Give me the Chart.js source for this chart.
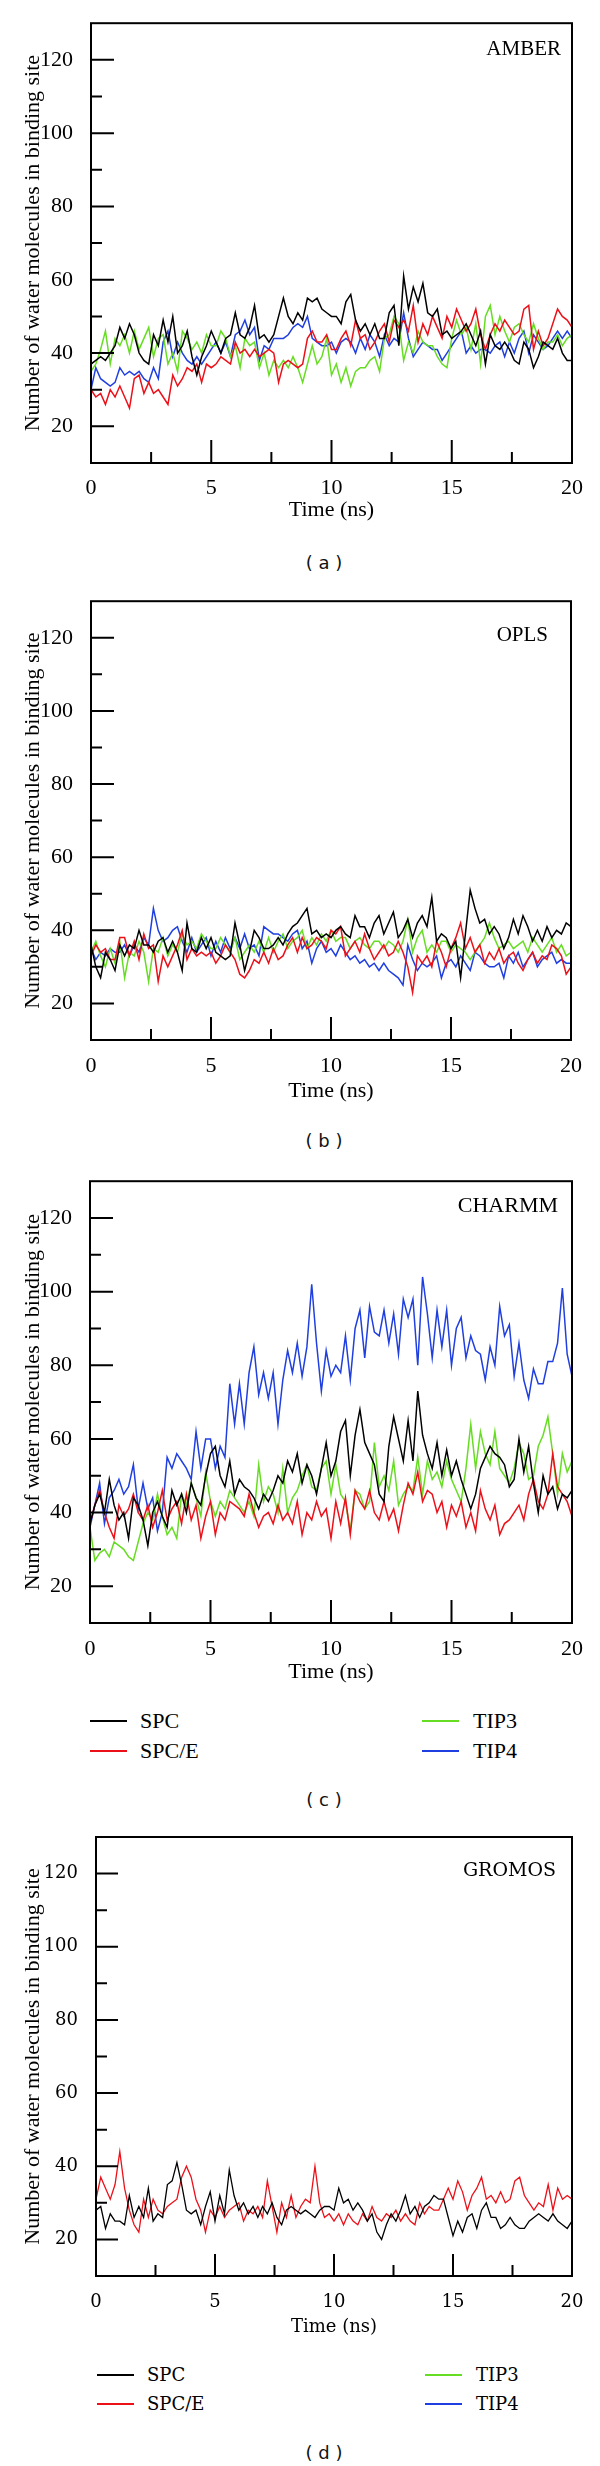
<!DOCTYPE html>
<html>
<head>
<meta charset="utf-8">
<title>Water molecules in binding site</title>
<script src="https://cdn.jsdelivr.net/npm/chart.js@4.4.0/dist/chart.umd.min.js"></script>
<style>
  html, body { margin: 0; padding: 0; background: #fff; }
  body { width: 600px; height: 2466px; position: relative; overflow: hidden; }
  canvas { position: absolute; left: 0; }
  .tag { position: absolute; left: 274px; width: 100px; height: 24px; line-height: 24px;
         text-align: center; font-family: "DejaVu Sans", sans-serif; font-size: 18px; color: #111; white-space: pre; }
  .sw { position: absolute; height: 2px; width: 37px; }
  .lt { position: absolute; height: 28px; line-height: 28px; color: #000; white-space: nowrap; }
  .serif { font-family: "Liberation Serif", "Times New Roman", serif; font-size: 22px; }
  .wide { font-family: "DejaVu Serif", serif; font-size: 18px; }
</style>
</head>
<body>

<canvas id="amber" width="600" height="530" style="top:0px"></canvas>
<div class="tag" style="top:551px">( a )</div>

<canvas id="opls" width="600" height="529" style="top:578px"></canvas>
<div class="tag" style="top:1129px">( b )</div>

<canvas id="charmm" width="600" height="532" style="top:1158px"></canvas>
<div id="legend-c"></div>
<div class="tag" style="top:1788px">( c )</div>

<canvas id="gromos" width="600" height="527" style="top:1816px"></canvas>
<div id="legend-d"></div>
<div class="tag" style="top:2441px">( d )</div>

<script>
// time axis (ns)
const times = [0, 0.2, 0.4, 0.6, 0.8, 1, 1.2, 1.4, 1.6, 1.8, 2,
  2.2, 2.4, 2.6, 2.8, 3, 3.2, 3.4, 3.6, 3.8, 4,
  4.2, 4.4, 4.6, 4.8, 5, 5.2, 5.4, 5.6, 5.8, 6,
  6.2, 6.4, 6.6, 6.8, 7, 7.2, 7.4, 7.6, 7.8, 8,
  8.2, 8.4, 8.6, 8.8, 9, 9.2, 9.4, 9.6, 9.8, 10,
  10.2, 10.4, 10.6, 10.8, 11, 11.2, 11.4, 11.6, 11.8, 12,
  12.2, 12.4, 12.6, 12.8, 13, 13.2, 13.4, 13.6, 13.8, 14,
  14.2, 14.4, 14.6, 14.8, 15, 15.2, 15.4, 15.6, 15.8, 16,
  16.2, 16.4, 16.6, 16.8, 17, 17.2, 17.4, 17.6, 17.8, 18,
  18.2, 18.4, 18.6, 18.8, 19, 19.2, 19.4, 19.6, 19.8, 20];

const yTicks = [20, 40, 60, 80, 100, 120];
const yMinorTicks = [30, 50, 70, 90, 110];
const xTicks = [0, 5, 10, 15, 20];
const xMinorTicks = [2.5, 7.5, 12.5, 17.5];

const seriesNames = ['SPC', 'SPC/E', 'TIP3', 'TIP4'];
const seriesColors = ['#000000', '#ec1019', '#66dd22', '#1f3fe0'];

// AMBER
const amberSPC = [37, 38, 39, 38, 40, 42, 47, 44, 48, 45, 40,
  38, 37, 45, 42, 49, 43, 50, 40, 42, 46,
  39, 34, 39, 42, 46, 43, 40, 44, 45, 51,
  45, 44, 47, 53, 44, 45, 43, 45, 50, 55,
  50, 48, 51, 49, 55, 54, 55, 52, 51, 50,
  50, 48, 54, 56, 49, 46, 48, 45, 48, 44,
  44, 51, 53, 42, 61, 52, 58, 54, 59, 51,
  50, 52, 45, 46, 44, 45, 46, 48, 45, 42,
  46, 37, 45, 42, 41, 43, 41, 38, 37, 43,
  41, 36, 39, 43, 42, 41, 44, 40, 38, 38];
const amberSPCE = [30, 28, 29, 26, 30, 28, 31, 28, 25, 33, 34,
  29, 32, 29, 30, 28, 26, 34, 31, 33, 36,
  35, 37, 32, 37, 36, 37, 39, 38, 37, 43,
  40, 41, 39, 41, 39, 40, 41, 40, 32, 37,
  38, 37, 36, 37, 44, 46, 43, 43, 45, 41,
  41, 44, 46, 42, 49, 44, 45, 41, 43, 46,
  48, 43, 49, 47, 49, 46, 53, 43, 48, 45,
  50, 47, 44, 50, 47, 52, 49, 46, 48, 52,
  45, 41, 45, 48, 46, 49, 47, 45, 46, 52,
  53, 41, 46, 42, 44, 48, 52, 50, 49, 47];
const amberTIP3 = [35, 37, 41, 46, 37, 44, 42, 45, 40, 46, 41,
  44, 47, 39, 44, 45, 37, 40, 35, 46, 44,
  41, 43, 40, 45, 42, 42, 46, 44, 39, 42,
  36, 44, 42, 43, 36, 40, 34, 38, 36, 38,
  36, 39, 36, 32, 37, 42, 37, 39, 44, 34,
  37, 32, 36, 31, 35, 36, 36, 38, 39, 35,
  44, 45, 50, 48, 38, 43, 40, 46, 43, 42,
  42, 39, 37, 36, 44, 49, 45, 47, 41, 48,
  37, 50, 53, 45, 50, 46, 43, 47, 48, 45,
  43, 48, 44, 41, 43, 43, 45, 42, 44, 45];
const amberTIP4 = [30, 36, 33, 32, 31, 32, 36, 34, 35, 34, 35,
  33, 32, 36, 33, 43, 46, 39, 43, 40, 38,
  37, 39, 37, 39, 41, 43, 40, 43, 39, 45,
  46, 49, 45, 47, 38, 42, 41, 44, 44, 44,
  45, 47, 48, 47, 50, 44, 43, 42, 42, 43,
  40, 43, 44, 43, 40, 44, 41, 45, 43, 39,
  45, 42, 44, 43, 51, 44, 39, 41, 43, 42,
  41, 41, 38, 40, 42, 44, 46, 40, 42, 40,
  41, 41, 40, 42, 43, 39, 43, 40, 44, 46,
  40, 45, 43, 41, 42, 44, 46, 44, 46, 44];

// OPLS
const oplsSPC = [36, 30, 27, 34, 32, 29, 36, 33, 36, 35, 40,
  36, 36, 34, 37, 38, 34, 37, 34, 29, 42,
  35, 34, 38, 35, 38, 34, 33, 32, 33, 42,
  36, 29, 34, 40, 38, 35, 35, 36, 38, 36,
  39, 41, 42, 44, 46, 39, 40, 38, 39, 38,
  40, 41, 39, 38, 44, 41, 41, 38, 42, 44,
  39, 42, 45, 38, 40, 43, 38, 42, 44, 41,
  49, 37, 39, 38, 35, 37, 27, 39, 51, 46,
  42, 43, 39, 41, 39, 35, 38, 43, 39, 44,
  41, 37, 40, 37, 41, 38, 40, 39, 42, 41];
const oplsSPCE = [33, 36, 34, 35, 32, 32, 38, 38, 33, 37, 32,
  39, 35, 36, 26, 33, 30, 33, 36, 40, 32,
  35, 33, 34, 33, 34, 31, 33, 36, 34, 32,
  28, 27, 29, 32, 31, 34, 31, 35, 32, 33,
  36, 38, 34, 38, 35, 36, 38, 37, 35, 40,
  39, 41, 33, 35, 37, 34, 39, 35, 32, 34,
  36, 33, 34, 37, 34, 30, 23, 33, 31, 33,
  30, 37, 34, 30, 35, 38, 42, 35, 38, 34,
  36, 31, 34, 32, 35, 31, 33, 34, 31, 29,
  32, 34, 31, 33, 32, 36, 35, 33, 28, 30];
const oplsTIP3 = [34, 37, 33, 30, 35, 31, 37, 27, 34, 33, 37,
  34, 26, 35, 34, 38, 33, 36, 34, 39, 36,
  37, 35, 39, 37, 35, 35, 38, 36, 34, 38,
  32, 34, 36, 34, 37, 34, 38, 34, 37, 39,
  35, 37, 38, 40, 35, 38, 36, 39, 37, 40,
  37, 38, 38, 35, 37, 38, 36, 35, 37, 37,
  35, 37, 36, 34, 37, 43, 34, 38, 40, 34,
  36, 34, 37, 37, 34, 36, 35, 34, 32, 34,
  36, 38, 42, 38, 35, 36, 37, 35, 36, 37,
  34, 38, 36, 34, 36, 38, 34, 36, 33, 34];
const oplsTIP4 = [35, 32, 34, 33, 35, 34, 34, 36, 33, 36, 34,
  38, 36, 46, 40, 37, 38, 40, 41, 37, 34,
  38, 34, 36, 38, 33, 37, 34, 38, 35, 38,
  35, 39, 35, 36, 33, 41, 40, 39, 39, 38,
  37, 39, 40, 35, 37, 31, 35, 37, 34, 35,
  33, 36, 34, 32, 33, 31, 32, 30, 31, 29,
  31, 29, 28, 27, 25, 36, 32, 29, 31, 30,
  31, 33, 27, 31, 32, 30, 33, 31, 29, 34,
  33, 31, 30, 30, 31, 27, 33, 31, 34, 30,
  32, 34, 30, 32, 33, 34, 31, 32, 31, 31];

// CHARMM
const charmmSPC = [37, 42, 45, 40, 49, 42, 38, 40, 33, 44, 42,
  38, 31, 40, 43, 39, 36, 46, 42, 45, 40,
  48, 44, 42, 50, 56, 58, 50, 47, 54, 45,
  49, 47, 46, 44, 41, 45, 43, 46, 50, 48,
  54, 51, 56, 48, 53, 50, 45, 52, 59, 50,
  54, 62, 65, 50, 61, 68, 59, 56, 53, 45,
  43, 58, 66, 60, 54, 65, 54, 73, 61, 56,
  52, 59, 50, 57, 50, 54, 49, 45, 41, 45,
  52, 55, 58, 56, 55, 53, 47, 49, 60, 51,
  58, 48, 40, 50, 45, 47, 41, 45, 44, 46];
const charmmSPCE = [37, 42, 46, 40, 36, 33, 42, 39, 41, 45, 40,
  38, 42, 36, 40, 46, 38, 41, 43, 37, 45,
  38, 42, 33, 39, 43, 34, 40, 38, 43, 42,
  41, 39, 45, 40, 36, 39, 40, 37, 42, 38,
  40, 37, 43, 34, 40, 38, 43, 39, 41, 33,
  43, 37, 44, 34, 46, 43, 41, 46, 40, 38,
  43, 38, 41, 35, 42, 48, 45, 51, 43, 46,
  45, 40, 43, 36, 42, 39, 43, 36, 40, 35,
  46, 41, 38, 42, 34, 37, 38, 40, 42, 38,
  45, 49, 43, 41, 45, 56, 47, 45, 43, 39];
const charmmTIP3 = [36, 27, 29, 30, 28, 32, 31, 30, 28, 27, 32,
  37, 40, 38, 45, 39, 34, 36, 33, 45, 42,
  48, 44, 39, 51, 43, 39, 43, 41, 46, 44,
  42, 40, 43, 39, 53, 43, 47, 45, 40, 52,
  40, 44, 46, 50, 53, 47, 46, 52, 54, 45,
  53, 45, 43, 35, 46, 45, 41, 43, 59, 47,
  50, 46, 54, 42, 45, 47, 46, 55, 45, 54,
  49, 51, 47, 54, 49, 46, 43, 52, 64, 52,
  62, 56, 53, 62, 52, 50, 48, 52, 59, 56,
  49, 50, 58, 61, 66, 56, 45, 56, 51, 54];
const charmmTIP4 = [36, 42, 48, 37, 44, 46, 49, 45, 47, 53, 41,
  48, 41, 44, 35, 40, 55, 52, 56, 54, 52,
  49, 62, 52, 60, 60, 52, 58, 55, 75, 64,
  75, 64, 78, 85, 72, 78, 71, 78, 64, 76,
  84, 78, 86, 77, 85, 102, 86, 73, 84, 77,
  80, 78, 88, 76, 90, 95, 82, 96, 89, 88,
  95, 86, 94, 83, 98, 93, 98, 80, 104, 94,
  82, 95, 85, 95, 80, 90, 93, 82, 88, 84,
  83, 76, 85, 80, 96, 88, 91, 77, 86, 76,
  71, 79, 75, 75, 81, 81, 86, 101, 83, 77];

// GROMOS (only SPC and SPC/E were plotted)
const gromosSPC = [28, 29, 23, 27, 25, 25, 24, 32, 26, 29, 26,
  34, 25, 27, 26, 35, 36, 41, 35, 28, 27,
  28, 24, 29, 33, 25, 32, 27, 39, 32, 28,
  30, 27, 29, 26, 29, 27, 30, 26, 24, 28,
  29, 28, 27, 28, 27, 26, 28, 29, 29, 28,
  34, 30, 31, 28, 30, 28, 25, 27, 22, 20,
  24, 27, 25, 28, 32, 27, 29, 26, 29, 30,
  32, 31, 31, 26, 21, 25, 22, 26, 27, 23,
  28, 30, 26, 26, 23, 24, 26, 24, 23, 23,
  25, 26, 27, 26, 25, 27, 25, 24, 23, 25];
const gromosSPCE = [31, 37, 34, 31, 35, 44, 34, 28, 24, 22, 31,
  26, 31, 28, 27, 29, 30, 31, 37, 40, 37,
  31, 28, 22, 28, 26, 29, 26, 28, 29, 30,
  25, 28, 27, 29, 26, 36, 29, 22, 30, 26,
  32, 26, 29, 31, 30, 40, 30, 26, 27, 25,
  27, 24, 27, 25, 24, 27, 25, 29, 26, 25,
  27, 26, 28, 25, 27, 25, 24, 30, 27, 29,
  28, 28, 31, 34, 31, 36, 33, 28, 32, 34,
  37, 31, 32, 30, 33, 30, 31, 36, 37, 32,
  30, 28, 30, 29, 35, 28, 34, 31, 32, 31];

const SERIF = '"Liberation Serif", "Times New Roman", serif';
const WIDE = '"DejaVu Serif", serif';

/**
 * Frame, inward ticks and force-field name
 */
const framePlugin = {
    id: 'frame',
    afterDraw(chart, args, opts) {
        const { ctx, chartArea: a, scales: { x, y } } = chart;
        ctx.save();
        ctx.strokeStyle = '#000';
        ctx.lineWidth = 2;
        ctx.strokeRect(a.left, a.top, a.right - a.left, a.bottom - a.top);

        ctx.beginPath();
        yTicks.forEach(v => {
            const p = y.getPixelForValue(v);
            ctx.moveTo(a.left, p);
            ctx.lineTo(a.left + opts.major, p);
        });
        yMinorTicks.forEach(v => {
            const p = y.getPixelForValue(v);
            ctx.moveTo(a.left, p);
            ctx.lineTo(a.left + opts.minor, p);
        });
        xTicks.forEach(v => {
            const p = x.getPixelForValue(v);
            ctx.moveTo(p, a.bottom);
            ctx.lineTo(p, a.bottom - opts.major);
        });
        xMinorTicks.forEach(v => {
            const p = x.getPixelForValue(v);
            ctx.moveTo(p, a.bottom);
            ctx.lineTo(p, a.bottom - opts.minor);
        });
        ctx.stroke();

        ctx.fillStyle = '#000';
        ctx.font = opts.nameFont;
        ctx.textAlign = 'right';
        ctx.textBaseline = 'middle';
        ctx.fillText(opts.name, a.right - opts.nameDx, a.top + opts.nameDy);
        ctx.restore();
    }
};

function makePanel(id, cfg) {
    const datasets = cfg.series.map((values, i) => ({
        label: seriesNames[i],
        data: values.map((v, k) => ({ x: times[k], y: v })),
        borderColor: seriesColors[i],
        borderWidth: cfg.lineWidth,
        pointRadius: 0,
        tension: 0,
        fill: false
    }));

    const tickFont = { family: cfg.tickFamily, size: cfg.tickSize };

    return new Chart(document.getElementById(id), {
        type: 'line',
        data: { datasets: datasets },
        plugins: [framePlugin],
        options: {
            responsive: false,
            animation: false,
            devicePixelRatio: 1,
            layout: { padding: { top: 21, right: cfg.padRight, bottom: 0, left: 0 } },
            plugins: {
                legend: { display: false },
                tooltip: { enabled: false },
                frame: {
                    name: cfg.name,
                    nameFont: cfg.nameFont,
                    nameDx: cfg.nameDx,
                    nameDy: cfg.nameDy,
                    major: cfg.major,
                    minor: cfg.minor
                }
            },
            scales: {
                x: {
                    type: 'linear',
                    min: 0,
                    max: 20,
                    afterBuildTicks: s => { s.ticks = xTicks.map(v => ({ value: v })); },
                    afterFit: s => { s.height = 67; },
                    grid: { display: false },
                    border: { display: false },
                    ticks: { color: '#000', font: tickFont, padding: cfg.xPad, maxRotation: 0, autoSkip: false },
                    title: {
                        display: true,
                        text: 'Time (ns)',
                        color: '#000',
                        font: tickFont,
                        padding: { top: 0, bottom: cfg.titlePad }
                    }
                },
                y: {
                    type: 'linear',
                    min: 10,
                    max: 130,
                    afterBuildTicks: s => { s.ticks = yTicks.map(v => ({ value: v })); },
                    afterFit: s => { s.width = cfg.left; },
                    grid: { display: false },
                    border: { display: false },
                    ticks: { color: '#000', font: tickFont, padding: 10, autoSkip: false },
                    title: {
                        display: true,
                        text: 'Number of water molecules in binding site',
                        color: '#000',
                        font: { family: SERIF, size: 22 },
                        padding: { top: 20, bottom: 0 }
                    }
                }
            }
        }
    });
}

/**
 * HTML legend, two columns
 */
function buildLegend(id, cfg) {
    const box = document.getElementById(id);
    const cols = [
        { swatch: cfg.leftSwatch, text: cfg.leftText, items: [0, 1] },
        { swatch: cfg.rightSwatch, text: cfg.rightText, items: [2, 3] }
    ];
    let html = '';
    cols.forEach(col => {
        col.items.forEach((idx, row) => {
            const y = cfg.rows[row];
            html += `<div class="sw" style="left:${col.swatch}px;top:${y - 1}px;background:${seriesColors[idx]}"></div>`;
            html += `<div class="lt ${cfg.cls}" style="left:${col.text}px;top:${y - 14}px">${seriesNames[idx]}</div>`;
        });
    });
    box.innerHTML = html;
}

document.addEventListener('DOMContentLoaded', function() {
    makePanel('amber', {
        series: [amberSPC, amberSPCE, amberTIP3, amberTIP4],
        name: 'AMBER', nameFont: '21px ' + SERIF, nameDx: 11, nameDy: 26,
        left: 91, padRight: 28, lineWidth: 1.5, major: 23, minor: 11,
        tickFamily: SERIF, tickSize: 22, xPad: 4, titlePad: 7
    });
    makePanel('opls', {
        series: [oplsSPC, oplsSPCE, oplsTIP3, oplsTIP4],
        name: 'OPLS', nameFont: '21px ' + SERIF, nameDx: 23, nameDy: 34,
        left: 91, padRight: 29, lineWidth: 1.5, major: 23, minor: 11,
        tickFamily: SERIF, tickSize: 22, xPad: 5, titlePad: 3
    });
    makePanel('charmm', {
        series: [charmmSPC, charmmSPCE, charmmTIP3, charmmTIP4],
        name: 'CHARMM', nameFont: '22px ' + SERIF, nameDx: 14, nameDy: 25,
        left: 90, padRight: 28, lineWidth: 1.5, major: 23, minor: 11,
        tickFamily: SERIF, tickSize: 22, xPad: 5, titlePad: 5
    });
    makePanel('gromos', {
        series: [gromosSPC, gromosSPCE],
        name: 'GROMOS', nameFont: '19px ' + WIDE, nameDx: 16, nameDy: 34,
        left: 96, padRight: 28, lineWidth: 1.3, major: 22, minor: 11,
        tickFamily: WIDE, tickSize: 18, xPad: 8, titlePad: 5
    });

    buildLegend('legend-c', {
        rows: [1721, 1751], leftSwatch: 90, leftText: 140,
        rightSwatch: 422, rightText: 473, cls: 'serif'
    });
    buildLegend('legend-d', {
        rows: [2375, 2404], leftSwatch: 97, leftText: 147,
        rightSwatch: 425, rightText: 476, cls: 'wide'
    });
});
</script>
</body>
</html>
